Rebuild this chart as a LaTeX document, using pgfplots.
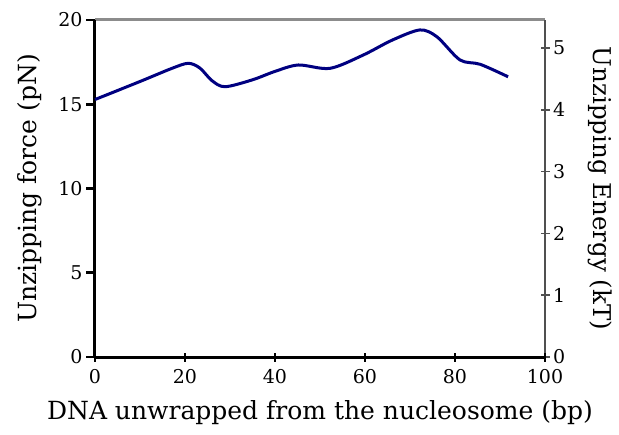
\documentclass[border=0pt]{standalone}
\usepackage{pgfplots}
\pgfplotsset{compat=1.18}
\usepackage{fontspec}
\setmainfont{DejaVu Serif}
\definecolor{curve}{RGB}{0,0,128}
\definecolor{gline}{RGB}{140,140,140}
\definecolor{dgline}{RGB}{80,80,80}
\begin{document}
\begin{tikzpicture}
\useasboundingbox (-95bp,-78bp) rectangle (524bp,357bp);
\begin{axis}[
  at={(0,0)}, anchor=south west,
  scale only axis, width=450bp, height=337bp,
  xmin=0, xmax=100, ymin=0, ymax=5.455,
  axis x line*=top, axis y line*=right,
  x axis line style={line width=3bp, gline, -},
  y axis line style={line width=1.8bp, dgline, -},
  xtick=\empty, ytick={0,1,...,5},
  major tick length=9bp,
  tick style={dgline, line width=1.5bp},
  ytick align=center,
  tick label style={font=\fontsize{19bp}{22bp}\selectfont},
  /pgf/number format/assume math mode=true,
  ylabel={Unzipping Energy (kT)},
  label style={font=\fontsize{24.5bp}{28bp}\selectfont},
  ylabel style={rotate=180, yshift=16bp},
]
\end{axis}
\begin{axis}[
  at={(0,0)}, anchor=south west,
  scale only axis, width=450bp, height=337bp,
  xmin=0, xmax=100, ymin=0, ymax=20,
  axis x line*=bottom, axis y line*=left,
  x axis line style={line width=3bp, black, -},
  y axis line style={line width=3bp, black, -},
  xtick={0,20,...,100}, ytick={0,5,...,20},
  major tick length=9bp,
  tick style={black, line width=2.6bp},
  xtick align=center, ytick align=outside,
  tick label style={font=\fontsize{19bp}{22bp}\selectfont},
  xticklabel style={yshift=-4bp},
  /pgf/number format/assume math mode=true,
  xlabel={DNA unwrapped from the nucleosome (bp)},
  ylabel={Unzipping force (pN)},
  label style={font=\fontsize{25bp}{28bp}\selectfont},
  xlabel style={yshift=-10bp},
  ylabel style={yshift=9bp},
  clip=false,
]
\addplot[curve, line width=3bp, smooth, tension=0.5] coordinates {
(0,15.28) (10,16.35) (17,17.12) (20.7,17.43) (23.3,17.15) (26,16.4) (28.9,16.04) (35,16.45) (40,16.95) (45.2,17.33) (52.2,17.13) (59.6,17.92) (66,18.8) (72.2,19.41) (76,19.0) (81.1,17.63) (85.6,17.37) (91.8,16.63)
};
\end{axis}
\end{tikzpicture}
\end{document}
